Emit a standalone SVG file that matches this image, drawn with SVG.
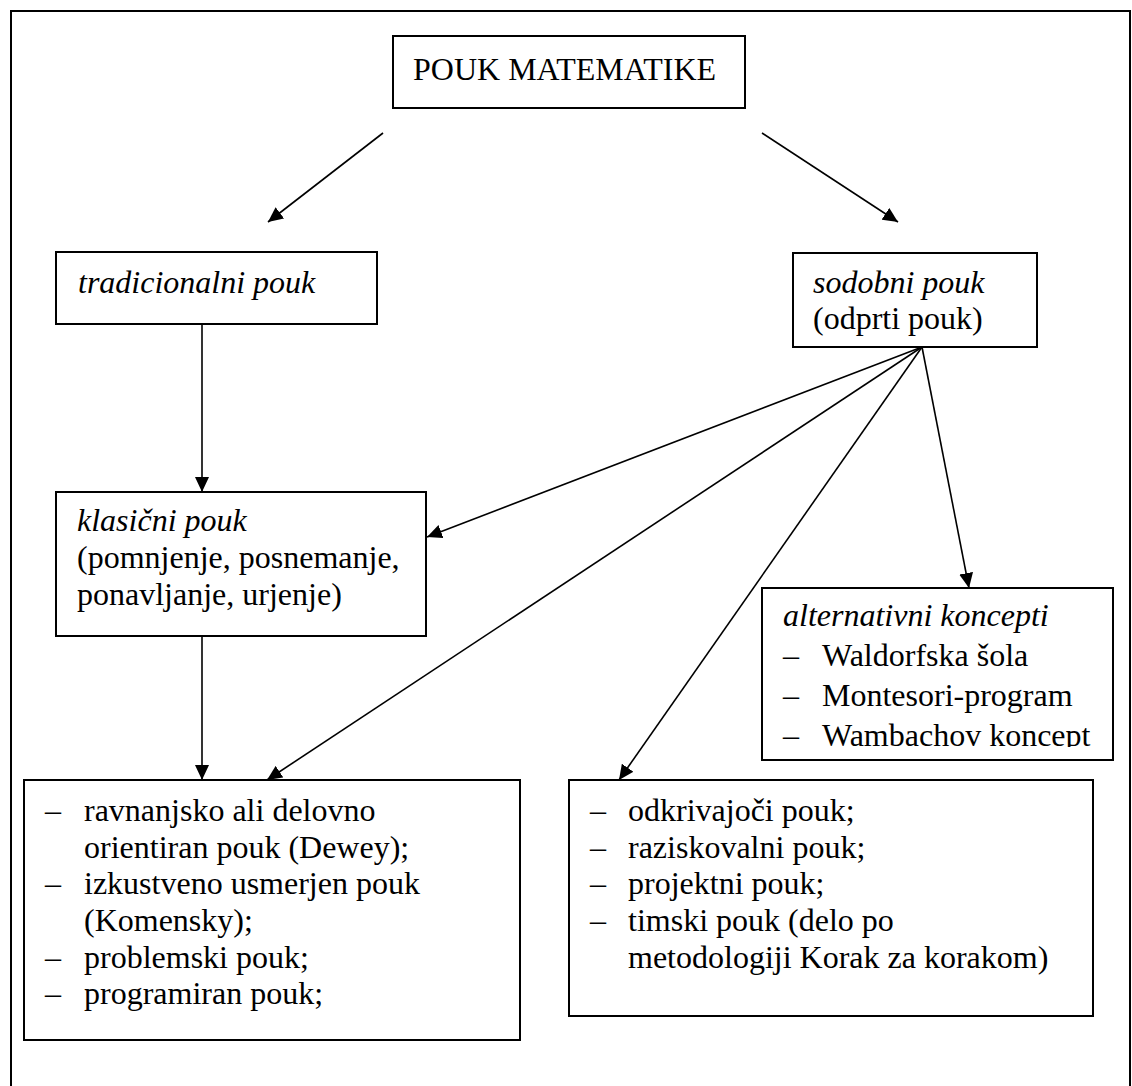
<svg xmlns="http://www.w3.org/2000/svg" width="1132" height="1086" viewBox="0 0 1132 1086">
<style>
.box{fill:#fff;stroke:#000;stroke-width:2}
.t{font-family:"Liberation Serif","Times New Roman",serif;font-size:32px;fill:#000}
.i{font-style:italic}
.c{stroke:#000;stroke-width:1.6;fill:none}
</style>
<defs>
<marker id="ah" viewBox="0 0 15 14" refX="15" refY="7" markerWidth="15" markerHeight="14" markerUnits="userSpaceOnUse" orient="auto">
<path d="M0,0 L15,7 L0,14 z" fill="#000"/>
</marker>
<clipPath id="altclip"><rect x="763" y="589" width="349" height="158"/></clipPath>
</defs>
<rect width="1132" height="1086" fill="#fff"/>
<path d="M11,1086 V11 H1130 V1086" fill="none" stroke="#000" stroke-width="2"/>

<g id="connectors">
<line class="c" x1="383" y1="133" x2="268" y2="222" marker-end="url(#ah)"/>
<line class="c" x1="762" y1="133" x2="898" y2="222" marker-end="url(#ah)"/>
<line class="c" x1="202" y1="324" x2="202" y2="492" marker-end="url(#ah)"/>
<line class="c" x1="922" y1="347" x2="427" y2="537" marker-end="url(#ah)"/>
<line class="c" x1="922" y1="347" x2="969" y2="588" marker-end="url(#ah)"/>
<line class="c" x1="202" y1="636" x2="202" y2="780" marker-end="url(#ah)"/>
<line class="c" x1="922" y1="347" x2="267" y2="780" marker-end="url(#ah)"/>
<line class="c" x1="922" y1="347" x2="619" y2="780" marker-end="url(#ah)"/>
</g>

<g id="pouk-matematike">
<rect class="box" x="393" y="36" width="352" height="72"/>
<text class="t" x="413" y="80">POUK MATEMATIKE</text>
</g>

<g id="tradicionalni">
<rect class="box" x="56" y="252" width="321" height="72"/>
<text class="t i" x="78" y="293">tradicionalni pouk</text>
</g>

<g id="sodobni">
<rect class="box" x="793" y="253" width="244" height="94"/>
<text class="t i" x="813" y="293">sodobni pouk</text>
<text class="t" x="813" y="329">(odprti pouk)</text>
</g>

<g id="klasicni">
<rect class="box" x="56" y="492" width="370" height="144"/>
<text class="t i" x="77" y="531">klasični pouk</text>
<text class="t" x="77" y="568">(pomnjenje, posnemanje,</text>
<text class="t" x="77" y="605">ponavljanje, urjenje)</text>
</g>

<g id="alternativni">
<rect class="box" x="762" y="588" width="351" height="172"/>
<g clip-path="url(#altclip)">
<text class="t i" x="783" y="626">alternativni koncepti</text>
<text class="t" x="783" y="666">–</text><text class="t" x="822" y="666">Waldorfska šola</text>
<text class="t" x="783" y="706">–</text><text class="t" x="822" y="706">Montesori-program</text>
<text class="t" x="783" y="746">–</text><text class="t" x="822" y="746">Wambachov koncept</text>
</g>
</g>

<g id="oblike-levo">
<rect class="box" x="24" y="780" width="496" height="260"/>
<text class="t" x="45" y="821">–</text><text class="t" x="84" y="821">ravnanjsko ali delovno</text>
<text class="t" x="84" y="858">orientiran pouk (Dewey);</text>
<text class="t" x="45" y="894">–</text><text class="t" x="84" y="894">izkustveno usmerjen pouk</text>
<text class="t" x="84" y="931">(Komensky);</text>
<text class="t" x="45" y="968">–</text><text class="t" x="84" y="968">problemski pouk;</text>
<text class="t" x="45" y="1004">–</text><text class="t" x="84" y="1004">programiran pouk;</text>
</g>

<g id="oblike-desno">
<rect class="box" x="569" y="780" width="524" height="236"/>
<text class="t" x="590" y="821">–</text><text class="t" x="628" y="821">odkrivajoči pouk;</text>
<text class="t" x="590" y="858">–</text><text class="t" x="628" y="858">raziskovalni pouk;</text>
<text class="t" x="590" y="894">–</text><text class="t" x="628" y="894">projektni pouk;</text>
<text class="t" x="590" y="931">–</text><text class="t" x="628" y="931">timski pouk (delo po</text>
<text class="t" x="628" y="968">metodologiji Korak za korakom)</text>
</g>
</svg>
